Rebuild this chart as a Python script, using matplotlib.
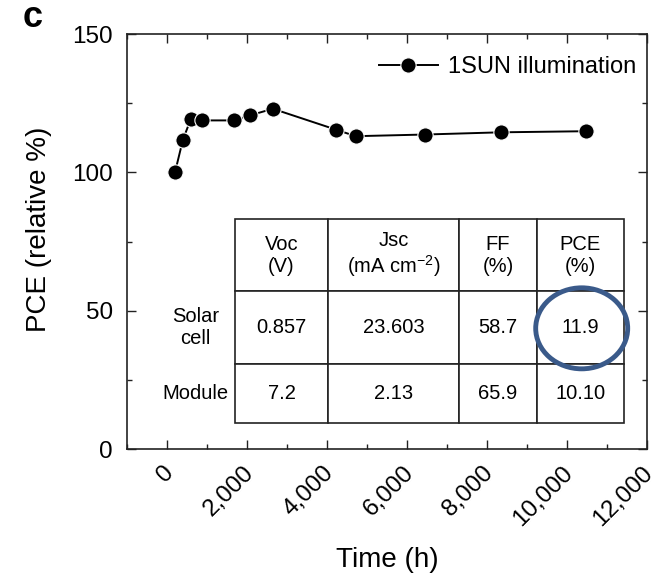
import matplotlib.pyplot as plt
import matplotlib.transforms as mtransforms
from matplotlib.patches import Ellipse
from matplotlib.ticker import MultipleLocator, StrMethodFormatter

plt.rcParams['font.family'] = ['Liberation Sans', 'DejaVu Sans']
plt.rcParams['mathtext.fontset'] = 'custom'
plt.rcParams['mathtext.rm'] = 'Liberation Sans'
plt.rcParams['mathtext.it'] = 'Liberation Sans:italic'

# data
time_h = [200, 400, 600, 880, 1680, 2070, 2650, 4220, 4720, 6450, 8350, 10490]
pce_rel = [100.0, 111.9, 119.4, 118.8, 118.8, 120.6, 123.0, 115.5, 113.1, 113.7, 114.5, 114.9]

col_labels = ['Voc\n(V)', 'Jsc\n(mA cm$^{-2}$)', 'FF\n(%)', 'PCE\n(%)']
row_labels = ['Solar\ncell', 'Module']
cell_text = [['0.857', '23.603', '58.7', '11.9'],
             ['7.2', '2.13', '65.9', '10.10']]

W, H = 519.7, 415.3  # axes size in px
fig = plt.figure(figsize=(6.71, 5.74), dpi=100)
ax = fig.add_axes([127 / 671, 0.2172, W / 671, H / 574])

ax.plot(time_h, pce_rel, color='black', lw=1.4, marker='o', ms=11,
        mfc='black', mec='white', mew=0.8, label='1SUN illumination')

ax.set_xlim(-1000, 12000)
ax.set_ylim(0, 150)
ax.xaxis.set_major_locator(MultipleLocator(2000))
ax.xaxis.set_minor_locator(MultipleLocator(1000))
ax.yaxis.set_major_locator(MultipleLocator(50))
ax.yaxis.set_minor_locator(MultipleLocator(25))
ax.xaxis.set_major_formatter(StrMethodFormatter('{x:,.0f}'))
ax.tick_params(which='both', direction='in', top=True, right=True, width=1, color='#222222')
ax.tick_params(which='major', length=6.5, labelsize=17.5)
ax.tick_params(which='minor', length=3.3)
ax.tick_params(axis='x', pad=9)
ax.tick_params(axis='y', pad=10)
shift = mtransforms.ScaledTranslation(11 / 100, 0, fig.dpi_scale_trans)
for lab in ax.get_xticklabels():
    lab.set_rotation(45)
    lab.set_ha('right')
    lab.set_va('top')
    lab.set_transform(lab.get_transform() + shift)
for s in ax.spines.values():
    s.set_linewidth(1.2)
    s.set_color('#222222')

ax.set_xlabel('Time (h)', fontsize=20, labelpad=12)
ax.set_ylabel('PCE (relative %)', fontsize=20)
ax.yaxis.set_label_coords((52 - 127) / W, (449.3 - 229) / H)

ax.legend(loc='center right', bbox_to_anchor=((636 - 127) / W, (449.3 - 67) / H),
          frameon=False, fontsize=17, handlelength=2.5, handletextpad=0.42,
          borderaxespad=0, borderpad=0)

# inset table
tbl = ax.table(cellText=cell_text, colLabels=col_labels, rowLabels=row_labels,
               cellLoc='center', rowLoc='center',
               bbox=[(235 - 127) / W, (449.3 - 423) / H, 389 / W, 204 / H])
tbl.auto_set_font_size(False)
tbl.set_fontsize(14.5)
col_w = [93, 131, 78, 87]
row_h = [72, 73, 59]
for (r, c), cell in tbl.get_celld().items():
    cell.set_linewidth(1.2)
    cell.set_edgecolor('#222222')
    cell.set_height(row_h[r] / H)
    if c == -1:
        cell.set_width(92 / W)
        cell.visible_edges = 'open'
    else:
        cell.set_width(col_w[c] / W)

ax.add_patch(Ellipse(((581.7 - 127) / W, (449.3 - 328.3) / H), 92 / W, 81 / H,
                     transform=ax.transAxes, fill=False, edgecolor='#3A5A8A',
                     lw=3.5, zorder=5))

fig.text(23 / 671, 1 - 27 / 574, 'c', fontsize=26, fontweight='bold', va='baseline')

fig.savefig('out.png', dpi=100)
